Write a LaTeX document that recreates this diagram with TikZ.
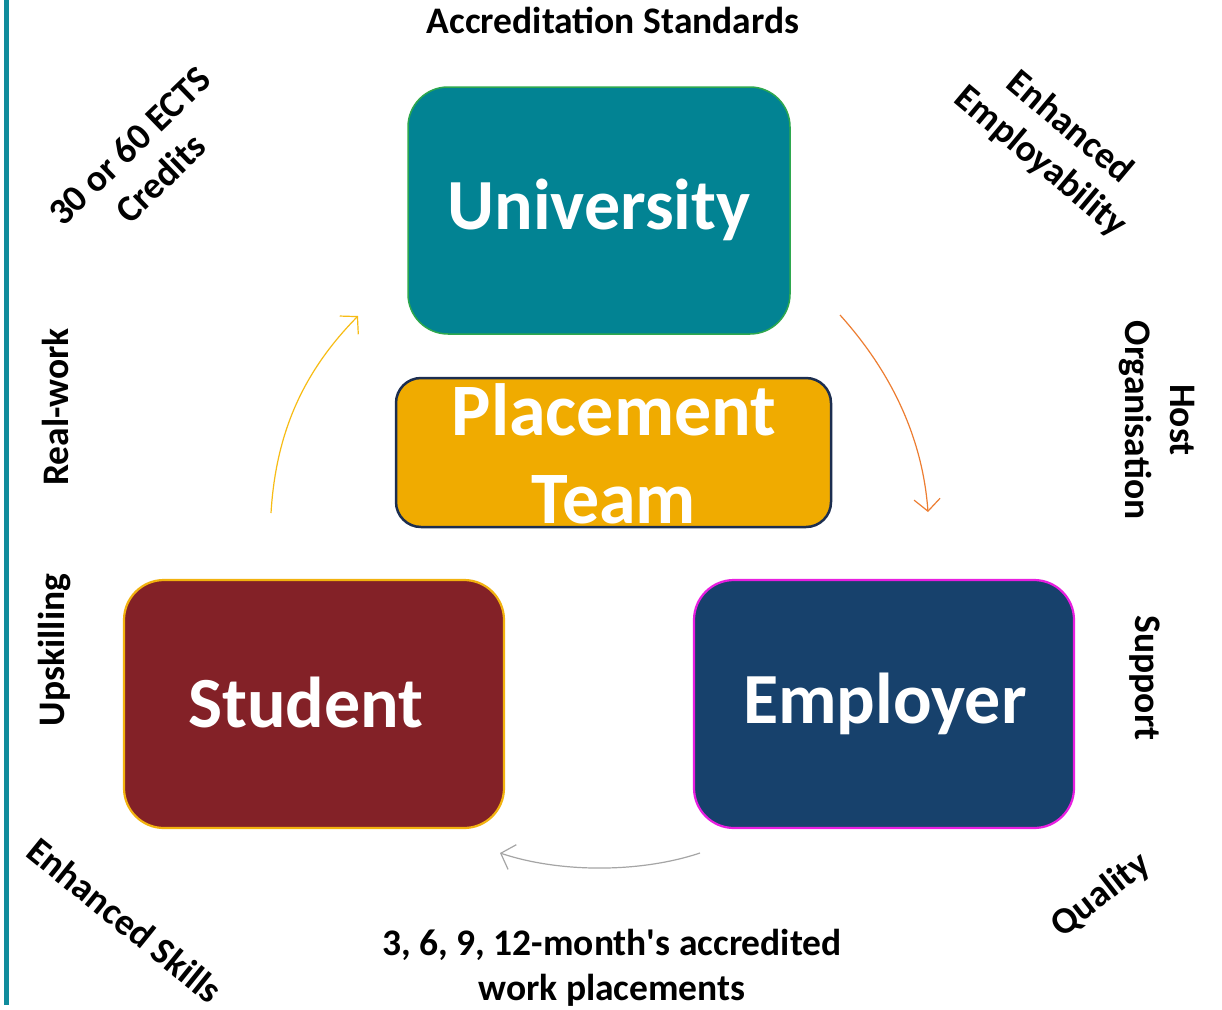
\documentclass[tikz,border=0pt]{standalone}
\usepackage{fontspec}
\setmainfont{Carlito}
\usetikzlibrary{arrows.meta}
\definecolor{uniteal}{HTML}{028393}
\definecolor{unigreen}{HTML}{2EA84E}
\definecolor{plgold}{HTML}{F0AB00}
\definecolor{plnavy}{HTML}{1C2E50}
\definecolor{stred}{HTML}{832127}
\definecolor{stborder}{HTML}{F2B20F}
\definecolor{emblue}{HTML}{17416C}
\definecolor{emborder}{HTML}{E81EE0}
\definecolor{barteal}{HTML}{108C9C}
\definecolor{arryellow}{HTML}{F7BC14}
\definecolor{arrorange}{HTML}{ED7D31}
\definecolor{arrgray}{HTML}{A5A5A5}
\tikzset{
  bigbox/.style={rounded corners=40pt, text=white, font=\bfseries\fontsize{72}{88}\selectfont, align=center, inner sep=0pt},
  lbl/.style={font=\bfseries\fontsize{37.5}{45}\selectfont, align=center, text=black, inner sep=0pt},
  flow/.style={line width=1.2pt, -{Straight Barb[length=12pt,width=26pt,line width=1.2pt]}}
}
\begin{document}
\begin{tikzpicture}[x=1pt,y=-1pt]
\useasboundingbox (0,0) rectangle (1222,1009);
\fill[white] (0,0) rectangle (1222,1009);
% left bar
\fill[barteal] (4,0) rectangle (9,1005);
% boxes
\draw[bigbox, fill=uniteal, draw=unigreen, line width=1.5pt] (408,87) rectangle (790,334);
\node[bigbox] (uni) at (599,210) {University};
\draw[bigbox, rounded corners=25pt, fill=plgold, draw=plnavy, line width=2.5pt] (396,378) rectangle (831,527);
\node[bigbox, font=\bfseries\fontsize{74}{88}\selectfont] (pt) at (614,454) {Placement\\Team};
\draw[bigbox, fill=stred, draw=stborder, line width=2.2pt] (124,580) rectangle (504,828);
\node[bigbox] (st) at (306,702) {Student};
\draw[bigbox, fill=emblue, draw=emborder, line width=2.2pt] (694,580) rectangle (1074,828);
\node[bigbox] (em) at (885,704) {Employer};
% arrows
\coordinate (y1) at (271,513);
\coordinate (y2) at (358,316);
\coordinate (o1) at (840,315);
\coordinate (o2) at (928,512);
\coordinate (g1) at (700,853);
\coordinate (g2) at (500,853);
\draw[flow, arryellow] (y1) .. controls (276,430) and (305,370) .. (y2);
\draw[flow, arrorange] (o1) .. controls (885,365) and (922,430) .. (o2);
\draw[flow, arrgray] (g1) .. controls (640,873) and (560,873) .. (g2);
% labels
\node[lbl] (acc) at (613,20) {Accreditation Standards};
\node[lbl, rotate=44] (ects) at (145,162) {30 or 60 ECTS\\Credits};
\node[lbl, rotate=-40] (emp) at (1055,145) {Enhanced\\Employability};
\node[lbl, rotate=90] (rw) at (55,407) {Real-work};
\node[lbl, rotate=-90] (host) at (1157,420) {Host\\Organisation};
\node[lbl, rotate=90] (up) at (55,650) {Upskilling};
\node[lbl, rotate=-90] (sup) at (1145,678) {Support};
\node[lbl, rotate=-39] (es) at (125,920) {Enhanced Skills};
\node[lbl, rotate=38] (q) at (1101,895) {Quality};
\node[lbl] (wp) at (612,968) {3, 6, 9, 12-month\textquotesingle s accredited\\work placements};
\end{tikzpicture}
\end{document}
